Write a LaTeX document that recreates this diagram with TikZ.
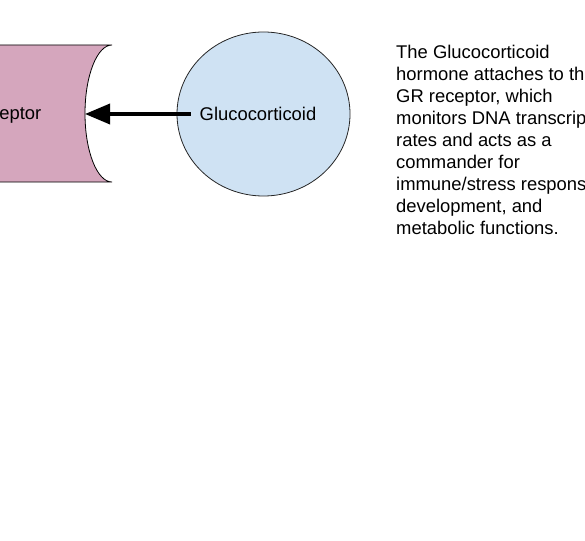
\documentclass[tikz,border=0pt]{standalone}
\usepackage{fontspec}
\setmainfont{Liberation Sans}
\usetikzlibrary{arrows.meta,shapes.geometric}
\definecolor{rcptpink}{HTML}{D5A6BD}
\definecolor{hormblue}{HTML}{CFE2F3}
\tikzset{
  labeltext/.style={font=\fontsize{18.4}{22}\selectfont, text=black},
}
\begin{document}
\begin{tikzpicture}[x=1pt,y=-1pt]
  % page frame, the picture is cut at its edges:
  \useasboundingbox (0,0) rectangle (585,540);
  \clip (0,0) rectangle (585,540);
  % receptor with its concave side:
  \filldraw[fill=rcptpink, draw=black, line width=0.8pt]
    (-20,45) -- (112,45) arc[start angle=270, end angle=90, x radius=27, y radius=68.5]
    -- (-20,182) -- cycle;
  \coordinate (rcpt) at (85,113.5);
  \node[labeltext, anchor=base east, inner sep=0pt] (rcpttxt) at (41.5,120) {eptor};
  % hormone:
  \node[ellipse, draw=black!85, fill=hormblue, line width=0.8pt,
    minimum width=173, minimum height=164] (horm) at (263.5,114) {};
  \node[labeltext, inner xsep=9pt, inner ysep=0pt] (hormtxt) at ([xshift=-5.5pt]horm.center) {Glucocorticoid};
  \draw[line width=3.5pt, -{Triangle[length=25pt,width=20pt]}] (hormtxt.west) -- (rcpt |- hormtxt.west);
  % explanation:
  \node[labeltext, anchor=north west, inner sep=0pt, align=left] (note) at (396,45)
    {The Glucocorticoid\\hormone attaches to th\\GR receptor, which\\monitors DNA transcrip\\rates and acts as a\\commander for\\immune/stress respons\\development, and\\metabolic functions.};
\end{tikzpicture}
\end{document}
